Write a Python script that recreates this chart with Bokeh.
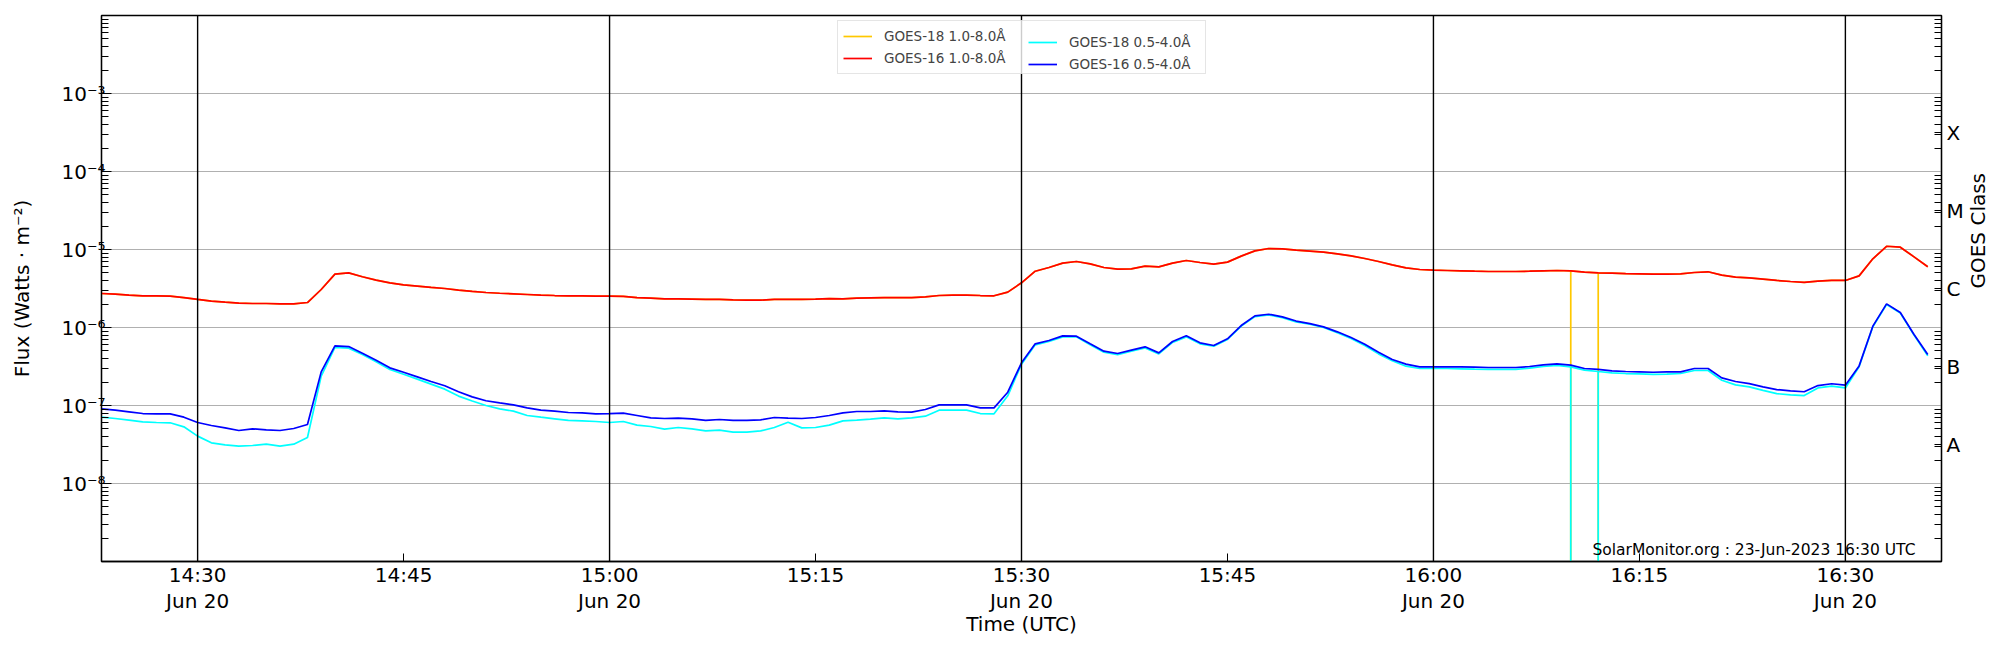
import math
import pandas as pd
from bokeh.plotting import figure
from bokeh.models import (Range1d, FixedTicker, CustomJSTickFormatter,
                          LogAxis, Span, Legend, LegendItem, Label, Title)
from bokeh.embed import file_html
from bokeh.resources import INLINE

# ---------------- data ----------------
start_time = "2023-06-20 14:23:00"   # one sample per minute
end_time = "2023-06-20 16:37:00"

goes16_long = [
    2.73e-6, 2.68e-6, 2.60e-6, 2.55e-6, 2.55e-6, 2.52e-6, 2.42e-6, 2.29e-6, 2.18e-6, 2.11e-6,
    2.05e-6, 2.03e-6, 2.03e-6, 2.01e-6, 2.01e-6, 2.09e-6, 3.07e-6, 4.83e-6, 5.02e-6, 4.47e-6,
    4.05e-6, 3.74e-6, 3.52e-6, 3.39e-6, 3.26e-6, 3.16e-6, 3.01e-6, 2.90e-6, 2.81e-6, 2.75e-6,
    2.70e-6, 2.65e-6, 2.60e-6, 2.57e-6, 2.55e-6, 2.55e-6, 2.52e-6, 2.52e-6, 2.50e-6, 2.42e-6,
    2.38e-6, 2.33e-6, 2.33e-6, 2.31e-6, 2.29e-6, 2.29e-6, 2.26e-6, 2.24e-6, 2.24e-6, 2.29e-6,
    2.29e-6, 2.29e-6, 2.31e-6, 2.35e-6, 2.33e-6, 2.38e-6, 2.40e-6, 2.42e-6, 2.42e-6, 2.42e-6,
    2.47e-6, 2.57e-6, 2.60e-6, 2.60e-6, 2.57e-6, 2.55e-6, 2.84e-6, 3.74e-6, 5.27e-6, 5.88e-6,
    6.68e-6, 7.02e-6, 6.55e-6, 5.88e-6, 5.60e-6, 5.65e-6, 6.11e-6, 6.00e-6, 6.68e-6, 7.23e-6,
    6.81e-6, 6.49e-6, 6.89e-6, 8.22e-6, 9.61e-6, 1.03e-5, 1.02e-5, 9.80e-6, 9.52e-6, 9.24e-6,
    8.80e-6, 8.30e-6, 7.67e-6, 7.02e-6, 6.35e-6, 5.82e-6, 5.54e-6, 5.43e-6, 5.38e-6, 5.33e-6,
    5.27e-6, 5.22e-6, 5.22e-6, 5.22e-6, 5.27e-6, 5.33e-6, 5.38e-6, 5.33e-6, 5.12e-6, 5.02e-6,
    4.98e-6, 4.92e-6, 4.88e-6, 4.83e-6, 4.83e-6, 4.88e-6, 5.07e-6, 5.18e-6, 4.69e-6, 4.42e-6,
    4.33e-6, 4.17e-6, 4.01e-6, 3.89e-6, 3.78e-6, 3.93e-6, 4.01e-6, 4.01e-6, 4.59e-6, 7.59e-6,
    1.10e-5, 1.07e-5, 8.05e-6, 6.00e-6,
]

goes16_short = [
    9.06e-8, 8.71e-8, 8.30e-8, 7.89e-8, 7.82e-8, 7.82e-8, 7.08e-8, 6.05e-8, 5.54e-8, 5.17e-8,
    4.78e-8, 5.02e-8, 4.88e-8, 4.78e-8, 5.07e-8, 5.71e-8, 2.70e-7, 5.82e-7, 5.70e-7, 4.69e-7,
    3.81e-7, 3.04e-7, 2.67e-7, 2.33e-7, 2.03e-7, 1.79e-7, 1.50e-7, 1.29e-7, 1.15e-7, 1.08e-7,
    1.02e-7, 9.33e-8, 8.71e-8, 8.46e-8, 8.13e-8, 8.05e-8, 7.82e-8, 7.89e-8, 7.98e-8, 7.45e-8,
    6.95e-8, 6.81e-8, 6.88e-8, 6.75e-8, 6.43e-8, 6.62e-8, 6.43e-8, 6.43e-8, 6.55e-8, 7.02e-8,
    6.88e-8, 6.81e-8, 7.02e-8, 7.45e-8, 8.05e-8, 8.38e-8, 8.38e-8, 8.55e-8, 8.30e-8, 8.22e-8,
    8.89e-8, 1.02e-7, 1.02e-7, 1.02e-7, 9.33e-8, 9.33e-8, 1.48e-7, 3.52e-7, 6.18e-7, 6.81e-7,
    7.82e-7, 7.74e-7, 6.18e-7, 4.97e-7, 4.64e-7, 5.12e-7, 5.65e-7, 4.73e-7, 6.62e-7, 7.82e-7,
    6.36e-7, 5.88e-7, 7.16e-7, 1.06e-6, 1.41e-6, 1.48e-6, 1.37e-6, 1.21e-6, 1.12e-6, 1.02e-6,
    8.80e-7, 7.44e-7, 6.11e-7, 4.83e-7, 3.89e-7, 3.39e-7, 3.13e-7, 3.13e-7, 3.13e-7, 3.13e-7,
    3.10e-7, 3.07e-7, 3.07e-7, 3.07e-7, 3.16e-7, 3.32e-7, 3.42e-7, 3.29e-7, 2.98e-7, 2.90e-7,
    2.78e-7, 2.73e-7, 2.70e-7, 2.67e-7, 2.70e-7, 2.70e-7, 2.98e-7, 2.98e-7, 2.26e-7, 2.03e-7,
    1.91e-7, 1.73e-7, 1.60e-7, 1.54e-7, 1.50e-7, 1.80e-7, 1.90e-7, 1.82e-7, 3.22e-7, 1.04e-6,
    2.01e-6, 1.56e-6, 8.13e-7, 4.50e-7,
]

goes18_short = [
    7.08e-8, 6.81e-8, 6.49e-8, 6.18e-8, 6.05e-8, 6.00e-8, 5.33e-8, 4.05e-8, 3.32e-8, 3.13e-8,
    3.01e-8, 3.07e-8, 3.19e-8, 3.01e-8, 3.19e-8, 3.89e-8, 2.38e-7, 5.54e-7, 5.43e-7, 4.50e-7,
    3.63e-7, 2.90e-7, 2.52e-7, 2.18e-7, 1.88e-7, 1.62e-7, 1.32e-7, 1.14e-7, 1.00e-7, 9.06e-8,
    8.46e-8, 7.45e-8, 7.08e-8, 6.75e-8, 6.43e-8, 6.36e-8, 6.24e-8, 6.05e-8, 6.24e-8, 5.60e-8,
    5.38e-8, 4.97e-8, 5.22e-8, 5.02e-8, 4.73e-8, 4.83e-8, 4.55e-8, 4.55e-8, 4.73e-8, 5.22e-8,
    6.11e-8, 5.17e-8, 5.22e-8, 5.60e-8, 6.36e-8, 6.49e-8, 6.68e-8, 6.95e-8, 6.75e-8, 6.95e-8,
    7.30e-8, 8.71e-8, 8.71e-8, 8.71e-8, 7.89e-8, 7.82e-8, 1.33e-7, 3.39e-7, 6.00e-7, 6.62e-7,
    7.59e-7, 7.59e-7, 6.00e-7, 4.83e-7, 4.50e-7, 4.97e-7, 5.48e-7, 4.59e-7, 6.43e-7, 7.59e-7,
    6.18e-7, 5.77e-7, 7.02e-7, 1.04e-6, 1.38e-6, 1.45e-6, 1.34e-6, 1.18e-6, 1.10e-6, 1.00e-6,
    8.55e-7, 7.23e-7, 5.88e-7, 4.59e-7, 3.74e-7, 3.19e-7, 2.98e-7, 2.98e-7, 2.98e-7, 2.95e-7,
    2.92e-7, 2.90e-7, 2.90e-7, 2.90e-7, 3.01e-7, 3.16e-7, 3.26e-7, 3.13e-7, 2.84e-7, 2.73e-7,
    2.62e-7, 2.57e-7, 2.55e-7, 2.50e-7, 2.52e-7, 2.57e-7, 2.81e-7, 2.81e-7, 2.11e-7, 1.84e-7,
    1.73e-7, 1.56e-7, 1.42e-7, 1.37e-7, 1.34e-7, 1.68e-7, 1.77e-7, 1.68e-7, 3.13e-7, 1.02e-6,
    1.97e-6, 1.53e-6, 7.98e-7, 4.33e-7,
]

# GOES-18 long channel lies exactly under the GOES-16 long curve in the picture
goes18_long = list(goes16_long)

# GOES-18 data dropouts (both channels fall off the bottom of the plot)
goes18_dropout_times = ["2023-06-20 16:10:00", "2023-06-20 16:12:00"]
goes18_dropout_flux = 1e-12

x_tick_times = ["14:30", "14:45", "15:00", "15:15", "15:30", "15:45", "16:00", "16:15", "16:30"]
x_tick_labels = ["14:30\nJun 20", "14:45", "15:00\nJun 20", "15:15", "15:30\nJun 20",
                 "15:45", "16:00\nJun 20", "16:15", "16:30\nJun 20"]
marker_times = ["14:30", "15:00", "15:30", "16:00", "16:30"]
flux_decades = [1e-8, 1e-7, 1e-6, 1e-5, 1e-4, 1e-3]
goes_classes = ["A", "B", "C", "M", "X"]
class_thresholds = [1e-8, 1e-7, 1e-6, 1e-5, 1e-4]
watermark = "SolarMonitor.org : 23-Jun-2023 16:30 UTC"

series_names = ["GOES-18 1.0-8.0Å", "GOES-16 1.0-8.0Å", "GOES-18 0.5-4.0Å", "GOES-16 0.5-4.0Å"]
series_colors = ["#FFC800", "#FF0000", "#00FFFF", "#0000FF"]

# ---------------- build ----------------
day = "2023-06-20 "
times = pd.date_range(start_time, periods=len(goes16_long), freq="1min")
drops = set(pd.to_datetime(goes18_dropout_times))


def with_dropouts(vals):
    xs, ys = [], []
    for t, v in zip(times, vals):
        xs.append(t)
        ys.append(v)
        if t in drops:
            xs += [t, t]
            ys += [goes18_dropout_flux, v]
    return xs, ys


def ms(hhmm):
    return (pd.Timestamp(day + hhmm) - pd.Timestamp("1970-01-01")) / pd.Timedelta(milliseconds=1)


FONT = "DejaVu Sans"
FRAME_W, FRAME_H = 1840, 546

p = figure(x_axis_type="datetime", y_axis_type="log",
           x_range=Range1d(pd.Timestamp(start_time), pd.Timestamp(end_time)),
           y_range=Range1d(1e-9, 1e-2),
           frame_width=FRAME_W, frame_height=FRAME_H,
           min_border_left=101, min_border_right=59, min_border_top=15, min_border_bottom=89,
           output_backend="svg", toolbar_location=None)
p.background_fill_color = "white"
p.border_fill_color = "white"
p.outline_line_color = "black"
p.outline_line_width = 1.3

renderers = []
x18, y18 = with_dropouts(goes18_long)
renderers.append(p.line(x18, y18, line_color=series_colors[0], line_width=1.7))
renderers.append(p.line(times, goes16_long, line_color=series_colors[1], line_width=1.7))
x18s, y18s = with_dropouts(goes18_short)
renderers.append(p.line(x18s, y18s, line_color=series_colors[2], line_width=1.7))
renderers.append(p.line(times, goes16_short, line_color=series_colors[3], line_width=1.7))

# grid
p.xgrid.visible = False
p.ygrid.grid_line_color = "#b0b0b0"
p.ygrid.grid_line_width = 1

minor = [k * 10.0 ** n for n in range(-9, -2) for k in range(2, 10)]

# x axis
xa = p.xaxis[0]
tick_ms = [ms(t) for t in x_tick_times]
xa.ticker = FixedTicker(ticks=tick_ms, minor_ticks=[])
xa.formatter = CustomJSTickFormatter(args=dict(tick_values=tick_ms, tick_texts=x_tick_labels), code="""
let best = 0;
for (let k = 0; k < tick_values.length; k++) {
  if (Math.abs(tick_values[k] - tick) < Math.abs(tick_values[best] - tick)) best = k;
}
return tick_texts[best];
""")
xa.axis_label = "Time (UTC)"
xa.major_tick_in = 8
xa.major_tick_out = 0
xa.minor_tick_in = 0
xa.minor_tick_out = 0
xa.major_label_standoff = 1
xa.major_label_text_line_height = 1.1
xa.axis_label_standoff = -4

# left y axis
ya = p.yaxis[0]
ya.ticker = FixedTicker(ticks=flux_decades, minor_ticks=minor)
ya.formatter = CustomJSTickFormatter(code="""
const sup = {"-": "\u207b", "0": "\u2070", "1": "\u00b9", "2": "\u00b2", "3": "\u00b3",
             "4": "\u2074", "5": "\u2075", "6": "\u2076", "7": "\u2077", "8": "\u2078", "9": "\u2079"};
const e = Math.round(Math.log10(tick));
return "10" + String(e).split("").map(c => sup[c]).join("");
""")
ya.axis_label = "Flux (Watts · m⁻²)"
ya.major_tick_in = 10
ya.major_tick_out = 0
ya.minor_tick_in = 7
ya.minor_tick_out = 0
ya.major_label_standoff = -4
ya.axis_label_standoff = 24

# right axis: GOES class letters at the middle of each decade
class_ticks = [c * 10 ** 0.5 for c in class_thresholds]
ra = LogAxis(ticker=FixedTicker(ticks=class_ticks, minor_ticks=minor))
ra.formatter = CustomJSTickFormatter(args=dict(levels=class_ticks, classes=goes_classes), code="""
let best = 0;
for (let k = 0; k < levels.length; k++) {
  if (Math.abs(Math.log10(levels[k] / tick)) < Math.abs(Math.log10(levels[best] / tick))) best = k;
}
return classes[best];
""")
ra.major_tick_in = 7
ra.major_tick_out = 0
ra.minor_tick_in = 7
ra.minor_tick_out = 0
ra.major_label_standoff = 5
use_axis_label = "axis_label_orientation" in LogAxis.properties()
if use_axis_label:
    ra.axis_label = "GOES Class"
    ra.axis_label_orientation = math.pi / 2
    ra.axis_label_standoff = 11
p.add_layout(ra, "right")

for ax in [xa, ya, ra]:
    ax.axis_line_color = "black"
    ax.axis_line_width = 1.3
    ax.major_tick_line_color = "black"
    ax.minor_tick_line_color = "black"
    ax.major_label_text_font = FONT
    ax.major_label_text_font_size = "20px"
    ax.major_label_text_color = "black"
    ax.axis_label_text_font = FONT
    ax.axis_label_text_font_size = "20px"
    ax.axis_label_text_font_style = "normal"
    ax.axis_label_text_color = "black"

if not use_axis_label:
    p.add_layout(Title(text="GOES Class", align="center", text_font=FONT, text_font_size="20px",
                       text_font_style="normal"), "right")

# vertical markers every half hour
for t in marker_times:
    p.add_layout(Span(location=ms(t), dimension="height", line_color="black", line_width=1.4))

# watermark
p.add_layout(Label(x=FRAME_W - 26, y=12, x_units="screen", y_units="screen", text=watermark,
                   text_align="right", text_baseline="alphabetic",
                   text_font=FONT, text_font_size="15.5px", text_color="black"))

# legend: framed first column, unframed second column laid over it
items = [LegendItem(label=n, renderers=[r]) for n, r in zip(series_names, renderers)]
legend_bottom = FRAME_H - 7 - 52


def make_legend(its, x, label_width, framed):
    lg = Legend(items=its, location=(x, legend_bottom), orientation="vertical")
    lg.padding = 5
    lg.spacing = 2
    lg.margin = 0
    lg.glyph_width = 29
    lg.glyph_height = 20
    lg.label_height = 20
    lg.label_width = label_width
    lg.label_standoff = 12
    lg.label_text_font = FONT
    lg.label_text_font_size = "13.5px"
    if framed:
        lg.border_line_color = "#cccccc"
        lg.border_line_width = 1
        lg.background_fill_color = "white"
        lg.background_fill_alpha = 0.8
    else:
        lg.border_line_color = None
        lg.background_fill_alpha = 0.0
    return lg


p.add_layout(make_legend(items[:2], 736, 316, True))
p.add_layout(make_legend(items[2:], 927, 122, False))

open("out.html", "w").write(file_html(p, INLINE))
